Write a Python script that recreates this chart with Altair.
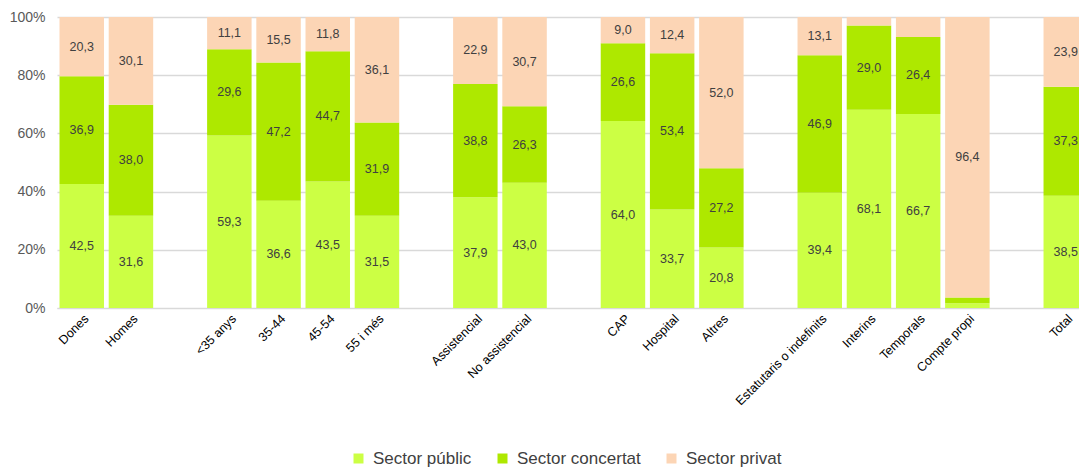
import altair as alt
import pandas as pd

categories = ["Dones", "Homes", "<35 anys", "35-44", "45-54", "55 i més",
              "Assistencial", "No assistencial", "CAP", "Hospital", "Altres",
              "Estatutaris o indefinits", "Interins", "Temporals", "Compte propi", "Total"]
publ = [42.5, 31.6, 59.3, 36.6, 43.5, 31.5, 37.9, 43.0, 64.0, 33.7, 20.8, 39.4, 68.1, 66.7, 1.6, 38.5]
conc = [36.9, 38.0, 29.6, 47.2, 44.7, 31.9, 38.8, 26.3, 26.6, 53.4, 27.2, 46.9, 29.0, 26.4, 2.0, 37.3]
priv = [20.3, 30.1, 11.1, 15.5, 11.8, 36.1, 22.9, 30.7, 9.0, 12.4, 52.0, 13.1, 2.9, 6.9, 96.4, 23.9]
series = ["Sector públic", "Sector concertat", "Sector privat"]
colors = ["#CCFF44", "#AEE800", "#FCD5B5"]

# category slots along the axis ('' = gap between groups)
slots = ["Dones", "Homes", "", "<35 anys", "35-44", "45-54", "55 i més", "",
         "Assistencial", "No assistencial", "", "CAP", "Hospital", "Altres", "",
         "Estatutaris o indefinits", "Interins", "Temporals", "Compte propi", "", "Total"]

rows = []
for i, c in enumerate(categories):
    for k, (s, vals) in enumerate(zip(series, [publ, conc, priv])):
        rows.append({"cat": c, "pos": slots.index(c), "serie": s, "ord": k,
                     "value": vals[i], "lbl": f"{vals[i]:.1f}".replace(".", ",")})
df = pd.DataFrame(rows)

FONT = "Liberation Sans, Arial, sans-serif"
label_array = "[" + ",".join("'" + s + "'" for s in slots) + "]"
tick_positions = [i for i, s in enumerate(slots) if s]

xscale = alt.Scale(domain=[-0.503, 20.269], nice=False, zero=False)
x_axis = alt.Axis(title=None, values=tick_positions, labelAngle=-45, ticks=False,
                  grid=False, labelFont=FONT, labelFontSize=12.5, labelColor="#000000",
                  labelPadding=4, domainColor="#D9D9D9", labelOverlap=False,
                  labelBound=False, labelFlush=False,
                  labelExpr=label_array + "[datum.value]")
yscale = alt.Scale(domain=[0, 1], nice=False)

base = alt.Chart(df).transform_stack(
    stack="value", as_=["y0", "y1"], groupby=["cat"],
    sort=[alt.SortField("ord")], offset="normalize"
).transform_calculate(
    xa="datum.pos - 0.452", xb="datum.pos + 0.452", mid="(datum.y0 + datum.y1) / 2"
)

bars = base.mark_bar(clip=True).encode(
    x=alt.X("xa:Q", scale=xscale, axis=x_axis),
    x2="xb:Q",
    y=alt.Y("y0:Q", scale=yscale,
            axis=alt.Axis(title=None, format="%", values=[0, 0.2, 0.4, 0.6, 0.8, 1.0],
                          ticks=False, domain=False, labelFont=FONT, labelFontSize=14,
                          labelColor="#595959", labelPadding=12, grid=True,
                          gridColor="#D9D9D9", gridWidth=1.5)),
    y2="y1:Q",
    color=alt.Color("serie:N", scale=alt.Scale(domain=series, range=colors),
                    legend=alt.Legend(title=None, orient="none", direction="horizontal",
                                      legendX=293, legendY=433, symbolType="square",
                                      symbolSize=100, symbolStrokeWidth=0,
                                      labelFont=FONT, labelFontSize=17,
                                      labelColor="#404040", columnPadding=22,
                                      gridAlign="none", labelOffset=6)),
)

texts = base.transform_filter("datum.value >= 8").mark_text(
    font=FONT, fontSize=12.5, color="#404040"
).encode(
    x=alt.X("pos:Q", scale=xscale),
    y=alt.Y("mid:Q", scale=yscale),
    text="lbl:N",
)

chart = alt.layer(bars, texts).properties(
    width=1022, height=291,
    autosize=alt.AutoSizeParams(type="none"),
    padding={"left": 49, "top": 9, "right": 0, "bottom": 160},
).configure_view(stroke=None)

chart.save("out.html", embed_options={"renderer": "svg", "actions": False})
